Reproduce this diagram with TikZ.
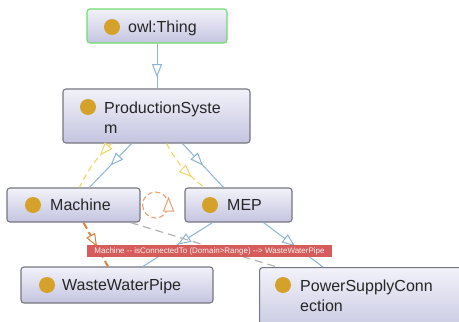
\documentclass[tikz,border=0pt]{standalone}
\usepackage{fontspec}
\setmainfont{Liberation Sans}
\usetikzlibrary{arrows.meta,decorations.markings}

\definecolor{boxtop}{RGB}{242,242,250}
\definecolor{boxbot}{RGB}{196,196,224}
\definecolor{boxline}{RGB}{118,118,128}
\definecolor{thingline}{RGB}{110,222,110}
\definecolor{classdot}{RGB}{212,162,42}
\definecolor{subline}{RGB}{140,180,215}
\definecolor{indline}{RGB}{245,214,95}
\definecolor{loopline}{RGB}{236,160,112}
\definecolor{rangeline}{RGB}{214,132,62}
\definecolor{otherline}{RGB}{178,178,178}
\definecolor{tipred}{RGB}{214,92,92}

\tikzset{
  cls/.style={draw=boxline, line width=1.1pt, rounded corners=3pt,
    top color=boxtop, bottom color=boxbot, inner sep=0pt},
  clsdot/.style={circle, fill=classdot, minimum size=16pt, inner sep=0pt},
  clstext/.style={font=\fontsize{16}{20}\selectfont, text=black!85, inner sep=0pt},
  tipat/.style={postaction={decorate, decoration={markings,
    mark=at position #1 with {\arrow[line width=1pt]{Triangle[length=13pt,width=10pt,fill=white]}}}}},
  looptip/.style={postaction={decorate, decoration={markings,
    mark=at position #1 with {\draw[draw=loopline, fill=white, solid, line width=1pt]
      (7pt,0pt) -- (-6pt,5pt) -- (-6pt,-5pt) -- cycle;}}}},
  subedge/.style={draw=subline, line width=1pt},
  indedge/.style={draw=indline, line width=1.1pt, dash pattern=on 6pt off 4pt},
  loopedge/.style={draw=loopline, line width=1.1pt, dash pattern=on 5pt off 3pt},
  rangeedge/.style={draw=rangeline, line width=2pt, dash pattern=on 7pt off 4pt},
  otheredge/.style={draw=otherline, line width=1.2pt, dash pattern=on 8pt off 5pt},
  relabel/.style={fill=tipred, text=white!92!tipred, font=\fontsize{8}{9}\selectfont,
    minimum width=245pt, minimum height=12pt, inner sep=0pt},
}

\begin{document}
\begin{tikzpicture}[x=1pt,y=1pt]
\useasboundingbox (0,0) rectangle (459,-322);
\clip (0,0) rectangle (459,-322);
\fill[white] (0,0) rectangle (459,-322);

% class boxes
\node[cls, draw=thingline, minimum width=140pt, minimum height=34pt] (thing) at (157,-26) {};
\node[cls, minimum width=187pt, minimum height=54pt] (ps) at (156.5,-116) {};
\node[cls, minimum width=133pt, minimum height=34pt] (machine) at (73.5,-205) {};
\node[cls, minimum width=107pt, minimum height=34pt] (mep) at (238.5,-205) {};
\node[cls, minimum width=192pt, minimum height=36pt] (wwp) at (117,-285) {};
\node[cls, minimum width=215pt, minimum height=70pt, anchor=north west] (psc) at (259,-267) {};

% class markers
\node[clsdot] (thingdot) at (112,-27) {};
\node[clsdot] (psdot) at (88,-107) {};
\node[clsdot] (machinedot) at (33,-205) {};
\node[clsdot] (mepdot) at (210,-205) {};
\node[clsdot] (wwpdot) at (47,-285) {};
\node[clsdot] (pscdot) at (283,-285) {};

% class names
\node[clstext, anchor=base west] (thingname) at (128,-32.5) {owl:Thing};
\node[clstext, align=left, anchor=north west] (psname) at (104,-101.5) {ProductionSyste\\m};
\node[clstext, anchor=base west] (machinename) at (50,-210.7) {Machine};
\node[clstext, anchor=base west] (mepname) at (227,-210.7) {MEP};
\node[clstext, anchor=base west] (wwpname) at (62,-290.7) {WasteWaterPipe};
\node[clstext, align=left, anchor=north west] (pscname) at (300,-279.5) {PowerSupplyConn\\ection};

% subclass edges
\draw[subedge, tipat=0.75] (thing.south) -- (thing.south |- ps.north);
\draw[subedge, tipat=0.5] ([xshift=-25pt]ps.south) -- ([xshift=16pt]machine.north);
\draw[subedge, tipat=0.5] ([xshift=26pt]ps.south) -- ([xshift=-15pt]mep.north);
\draw[subedge, tipat=0.5] ([xshift=-26pt]mep.south) -- ([xshift=26pt]wwp.north);
\draw[subedge, tipat=0.53] ([xshift=25pt]mep.south) -- ([xshift=64pt]psc.north west);

% dashed edges
\draw[indedge, tipat=0.3] ([xshift=-45pt]ps.south) to[bend right=10] ([xshift=6pt]machine.north);
\draw[indedge, tipat=0.72] ([xshift=10pt]ps.south) to[bend right=12] ([xshift=-34pt]mep.north);
\draw[loopedge, looptip=0.5] ([xshift=2pt]machine.east) arc[start angle=180, end angle=540, radius=13pt];
\draw[otheredge] ([xshift=57pt]machine.south) -- ([xshift=18pt]psc.north west);
\draw[rangeedge, tipat=0.55] ([xshift=10pt]machine.south) -- ([xshift=-9pt]wwp.north);

% relation tooltip
\node[relabel] (conn) at (209.5,-251) {Machine -{}- isConnectedTo (Domain>Range) -{}-> WasteWaterPipe};
\end{tikzpicture}
\end{document}
